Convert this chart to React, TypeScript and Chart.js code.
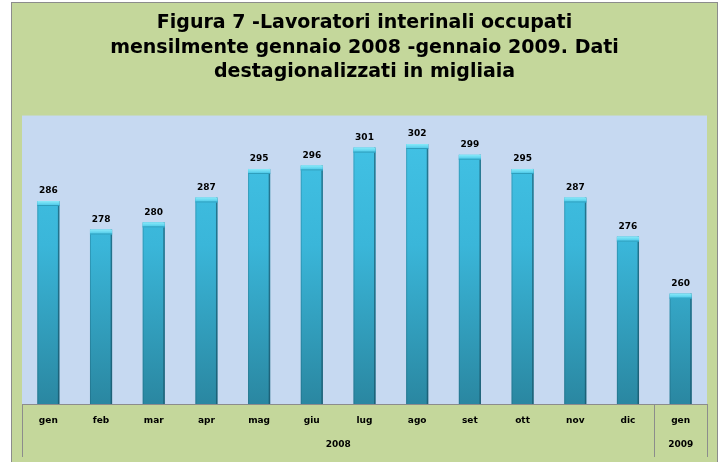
import React, { useEffect, useRef } from "react";
import { Chart, registerables } from "chart.js";

Chart.register(...registerables);

const titleLines = [
  "Figura 7 -Lavoratori interinali occupati",
  "mensilmente gennaio 2008 -gennaio 2009. Dati",
  "destagionalizzati in migliaia",
];
const months = ["gen", "feb", "mar", "apr", "mag", "giu", "lug", "ago", "set", "ott", "nov", "dic", "gen"];
const values = [286, 278, 280, 287, 295, 296, 301, 302, 299, 295, 287, 276, 260];
const years = ["2008", "2009"];
const yearSpans = [12, 1]; // number of months per year group

const FONT = "'DejaVu Sans', Verdana, sans-serif";

const frame = {
  id: "frame",
  beforeDraw(chart: any) {
    const { ctx, width, height, chartArea } = chart;
    ctx.save();
    ctx.fillStyle = "#ffffff";
    ctx.fillRect(0, 0, width, height);
    ctx.fillStyle = "#C4D79B";
    ctx.fillRect(11, 2, 707, height + 10);
    ctx.strokeStyle = "#8C8C8C";
    ctx.lineWidth = 1;
    ctx.strokeRect(11.5, 2.5, 706, height + 10);
    ctx.fillStyle = "#C6D9F1";
    ctx.fillRect(chartArea.left, chartArea.top, chartArea.right - chartArea.left, chartArea.bottom - chartArea.top);
    ctx.restore();
  },
};

const barDecor = {
  id: "barDecor",
  afterDatasetsDraw(chart: any) {
    const { ctx, chartArea } = chart;
    const meta = chart.getDatasetMeta(0);
    ctx.save();
    meta.data.forEach((bar: any, i: number) => {
      const w = bar.width;
      const left = bar.x - w / 2;
      const base = Math.min(bar.base, chartArea.bottom);
      // side shading
      ctx.fillStyle = "rgba(20,70,90,0.6)";
      ctx.fillRect(left + w - 1.5, bar.y, 1.5, base - bar.y);
      ctx.fillStyle = "rgba(20,70,90,0.25)";
      ctx.fillRect(left, bar.y, 1, base - bar.y);
      // top cap
      const g = ctx.createLinearGradient(0, bar.y, 0, bar.y + 5);
      g.addColorStop(0, "#8AEBFA");
      g.addColorStop(1, "#44C4E6");
      ctx.fillStyle = g;
      ctx.fillRect(left, bar.y, w, 5);
      ctx.fillStyle = "#2E9DBB";
      ctx.fillRect(left, bar.y + 4, w, 1);
      // value label
      ctx.fillStyle = "#000000";
      ctx.font = `bold 9px ${FONT}`;
      ctx.textAlign = "center";
      ctx.textBaseline = "middle";
      ctx.fillText(String(values[i]), bar.x, bar.y - 10);
    });
    ctx.restore();
  },
};

const yearAxis = {
  id: "yearAxis",
  afterDraw(chart: any) {
    const { ctx, chartArea } = chart;
    const x = chart.scales.x;
    const half = (x.getPixelForValue(1) - x.getPixelForValue(0)) / 2;
    const bottom = chartArea.bottom + 53;
    ctx.save();
    ctx.strokeStyle = "#8C8C8C";
    ctx.lineWidth = 1;
    ctx.fillStyle = "#000000";
    ctx.font = `bold 9px ${FONT}`;
    ctx.textAlign = "center";
    ctx.textBaseline = "middle";
    let start = 0;
    const edges: number[] = [x.getPixelForValue(0) - half];
    years.forEach((yr, k) => {
      const end = start + yearSpans[k] - 1;
      const l = x.getPixelForValue(start) - half;
      const r = x.getPixelForValue(end) + half;
      edges.push(r);
      ctx.fillText(yr, (l + r) / 2, chartArea.bottom + 41);
      start = end + 1;
    });
    edges.forEach((e) => {
      const px = Math.round(e) + 0.5;
      ctx.beginPath();
      ctx.moveTo(px, chartArea.bottom);
      ctx.lineTo(px, bottom);
      ctx.stroke();
    });
    ctx.restore();
  },
};

export default function App() {
  const ref = useRef<HTMLCanvasElement>(null);
  useEffect(() => {
    if (!ref.current) return;
    const chart = new Chart(ref.current, {
      type: "bar",
      data: {
        labels: months,
        datasets: [
          {
            data: values,
            backgroundColor: (ctx: any) => {
              const area = ctx.chart.chartArea;
              if (!area) return "#3DBDE0";
              const g = ctx.chart.ctx.createLinearGradient(0, area.top, 0, area.bottom);
              g.addColorStop(0, "#43C4E7");
              g.addColorStop(0.45, "#3AB6D9");
              g.addColorStop(1, "#2A87A1");
              return g;
            },
            borderWidth: 0,
            barPercentage: 0.42,
            categoryPercentage: 1,
          },
        ],
      },
      options: {
        responsive: false,
        animation: false,
        layout: { padding: { left: 22, right: 19, top: 0, bottom: 0 } },
        plugins: {
          legend: { display: false },
          tooltip: { enabled: false },
          title: {
            display: true,
            text: titleLines,
            color: "#000000",
            font: { family: FONT, size: 19, weight: "bold", lineHeight: 1.29 },
            padding: { top: 11, bottom: 31 },
          },
        },
        scales: {
          x: {
            grid: { display: false, drawTicks: false },
            border: { display: true, color: "#8C8C8C", width: 1 },
            ticks: {
              color: "#000000",
              font: { family: FONT, size: 9, weight: "bold" },
              padding: 11,
              maxRotation: 0,
              autoSkip: false,
            },
            afterFit: (scale: any) => {
              scale.height = 58;
            },
          },
          y: {
            display: false,
            min: 229,
            max: 310,
          },
        },
      },
      plugins: [frame, barDecor, yearAxis],
    });
    return () => chart.destroy();
  }, []);
  return (
    <div style={{ position: "absolute", left: 0, top: 0, width: 726, height: 462 }}>
      <canvas ref={ref} width={726} height={462} style={{ display: "block" }} />
    </div>
  );
}
